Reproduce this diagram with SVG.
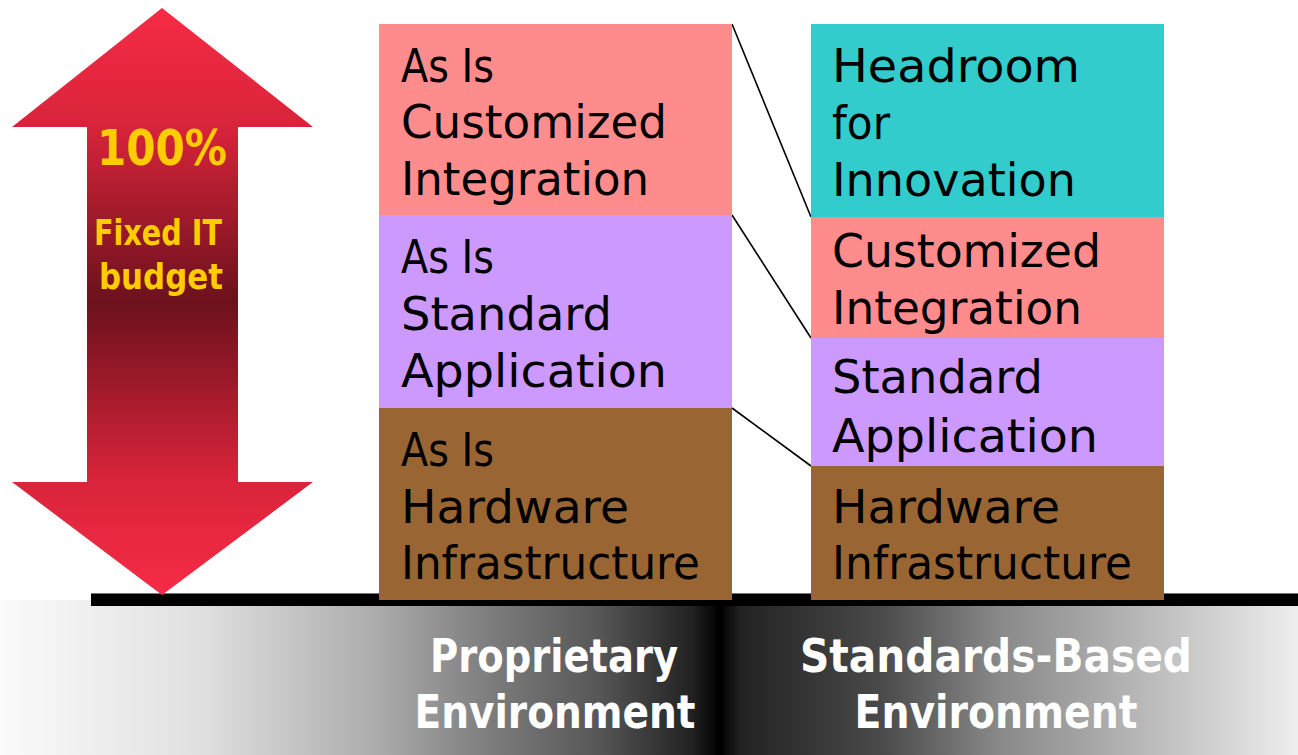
<svg xmlns="http://www.w3.org/2000/svg" width="1298" height="755" viewBox="0 0 1298 755">
  <defs>
    <linearGradient id="arrowGrad" gradientUnits="userSpaceOnUse" x1="0" y1="8" x2="0" y2="596">
      <stop offset="0" stop-color="#f72b46"/>
      <stop offset="0.2" stop-color="#d8243a"/>
      <stop offset="0.5" stop-color="#6c111c"/>
      <stop offset="0.8" stop-color="#d8243a"/>
      <stop offset="1" stop-color="#f72b46"/>
    </linearGradient>
    <linearGradient id="bandLeft" gradientUnits="userSpaceOnUse" x1="0" y1="0" x2="720" y2="0">
      <stop offset="0" stop-color="#fbfbfb"/>
      <stop offset="0.28" stop-color="#e0e0e0"/>
      <stop offset="0.53" stop-color="#aaaaaa"/>
      <stop offset="0.69" stop-color="#7a7a7a"/>
      <stop offset="0.83" stop-color="#575757"/>
      <stop offset="0.96" stop-color="#222222"/>
      <stop offset="1" stop-color="#000000"/>
    </linearGradient>
    <linearGradient id="bandRight" gradientUnits="userSpaceOnUse" x1="720" y1="0" x2="1298" y2="0">
      <stop offset="0" stop-color="#000000"/>
      <stop offset="0.035" stop-color="#222222"/>
      <stop offset="0.14" stop-color="#333333"/>
      <stop offset="0.28" stop-color="#4a4a4a"/>
      <stop offset="0.48" stop-color="#888888"/>
      <stop offset="0.66" stop-color="#aaaaaa"/>
      <stop offset="0.83" stop-color="#cccccc"/>
      <stop offset="1" stop-color="#eeeeee"/>
    </linearGradient>
    <style>
      .box { font-family: "DejaVu Sans", "Liberation Sans", sans-serif; font-size: 47px; fill: #000; }
      .env { font-family: "DejaVu Sans", "Liberation Sans", sans-serif; font-weight: bold; font-size: 46px; fill: #fff; text-anchor: middle; }
      .arr { font-family: "DejaVu Sans", "Liberation Sans", sans-serif; font-weight: bold; fill: #ffcc00; text-anchor: middle; }
      .conn { stroke: #000; stroke-width: 1.6; fill: none; }
    </style>
  </defs>

  <rect x="0" y="0" width="1298" height="755" fill="#ffffff"/>

  <!-- bottom band -->
  <g id="ground">
    <rect x="0" y="600" width="720" height="155" fill="url(#bandLeft)"/>
    <rect x="720" y="600" width="578" height="155" fill="url(#bandRight)"/>
    <rect x="716" y="600" width="8" height="155" fill="#000" opacity="0.6"/>
    <rect x="91" y="593" width="1207" height="13" fill="#000"/>
    <line x1="91" y1="593.5" x2="1298" y2="593.5" stroke="#777" stroke-width="1"/>
  </g>

  <!-- arrow -->
  <g id="budget-arrow">
    <polygon points="162,8 313,127 238,127 238,482 313,482 162,595 12,482 87,482 87,127 12,127" fill="url(#arrowGrad)"/>
    <text class="arr" x="162" y="165" font-size="50" textLength="130" lengthAdjust="spacingAndGlyphs">100%</text>
    <text class="arr" x="158" y="245" font-size="35" textLength="128" lengthAdjust="spacingAndGlyphs">Fixed IT</text>
    <text class="arr" x="161" y="289" font-size="35" textLength="124" lengthAdjust="spacingAndGlyphs">budget</text>
  </g>

  <!-- connectors -->
  <g id="connectors">
    <line class="conn" x1="732" y1="24" x2="811" y2="217"/>
    <line class="conn" x1="732" y1="215" x2="811" y2="338"/>
    <line class="conn" x1="732" y1="408" x2="811" y2="466"/>
  </g>

  <!-- left column -->
  <g id="asis-integration">
    <rect x="379" y="24" width="353" height="191" fill="#ff8c8c"/>
    <text class="box" x="401" y="82" textLength="93" lengthAdjust="spacingAndGlyphs">As Is</text>
    <text class="box" x="401" y="138" textLength="266" lengthAdjust="spacingAndGlyphs">Customized</text>
    <text class="box" x="401" y="195" textLength="248" lengthAdjust="spacingAndGlyphs">Integration</text>
  </g>
  <g id="asis-application">
    <rect x="379" y="215" width="353" height="193" fill="#cc99ff"/>
    <text class="box" x="401" y="273" textLength="93" lengthAdjust="spacingAndGlyphs">As Is</text>
    <text class="box" x="401" y="330" textLength="211" lengthAdjust="spacingAndGlyphs">Standard</text>
    <text class="box" x="401" y="387" textLength="266" lengthAdjust="spacingAndGlyphs">Application</text>
  </g>
  <g id="asis-hardware">
    <rect x="379" y="408" width="353" height="192" fill="#996633"/>
    <text class="box" x="401" y="466" textLength="93" lengthAdjust="spacingAndGlyphs">As Is</text>
    <text class="box" x="401" y="523" textLength="228" lengthAdjust="spacingAndGlyphs">Hardware</text>
    <text class="box" x="401" y="579" textLength="299" lengthAdjust="spacingAndGlyphs">Infrastructure</text>
  </g>

  <!-- right column -->
  <g id="headroom">
    <rect x="811" y="24" width="353" height="193" fill="#33cccc"/>
    <text class="box" x="832" y="82" textLength="248" lengthAdjust="spacingAndGlyphs">Headroom</text>
    <text class="box" x="832" y="139" textLength="58" lengthAdjust="spacingAndGlyphs">for</text>
    <text class="box" x="832" y="196" textLength="244" lengthAdjust="spacingAndGlyphs">Innovation</text>
  </g>
  <g id="integration">
    <rect x="811" y="217" width="353" height="121" fill="#ff8c8c"/>
    <text class="box" x="832" y="267" textLength="269" lengthAdjust="spacingAndGlyphs">Customized</text>
    <text class="box" x="832" y="324" textLength="250" lengthAdjust="spacingAndGlyphs">Integration</text>
  </g>
  <g id="application">
    <rect x="811" y="338" width="353" height="128" fill="#cc99ff"/>
    <text class="box" x="832" y="393" textLength="211" lengthAdjust="spacingAndGlyphs">Standard</text>
    <text class="box" x="832" y="452" textLength="266" lengthAdjust="spacingAndGlyphs">Application</text>
  </g>
  <g id="hardware">
    <rect x="811" y="466" width="353" height="134" fill="#996633"/>
    <text class="box" x="832" y="523" textLength="228" lengthAdjust="spacingAndGlyphs">Hardware</text>
    <text class="box" x="832" y="579" textLength="300" lengthAdjust="spacingAndGlyphs">Infrastructure</text>
  </g>

  <!-- environment labels -->
  <g id="proprietary-label">
    <text class="env" x="554" y="672" textLength="248" lengthAdjust="spacingAndGlyphs">Proprietary</text>
    <text class="env" x="555" y="728" textLength="281" lengthAdjust="spacingAndGlyphs">Environment</text>
  </g>
  <g id="standards-label">
    <text class="env" x="996" y="672" textLength="392" lengthAdjust="spacingAndGlyphs">Standards-Based</text>
    <text class="env" x="996" y="728" textLength="283" lengthAdjust="spacingAndGlyphs">Environment</text>
  </g>
</svg>
